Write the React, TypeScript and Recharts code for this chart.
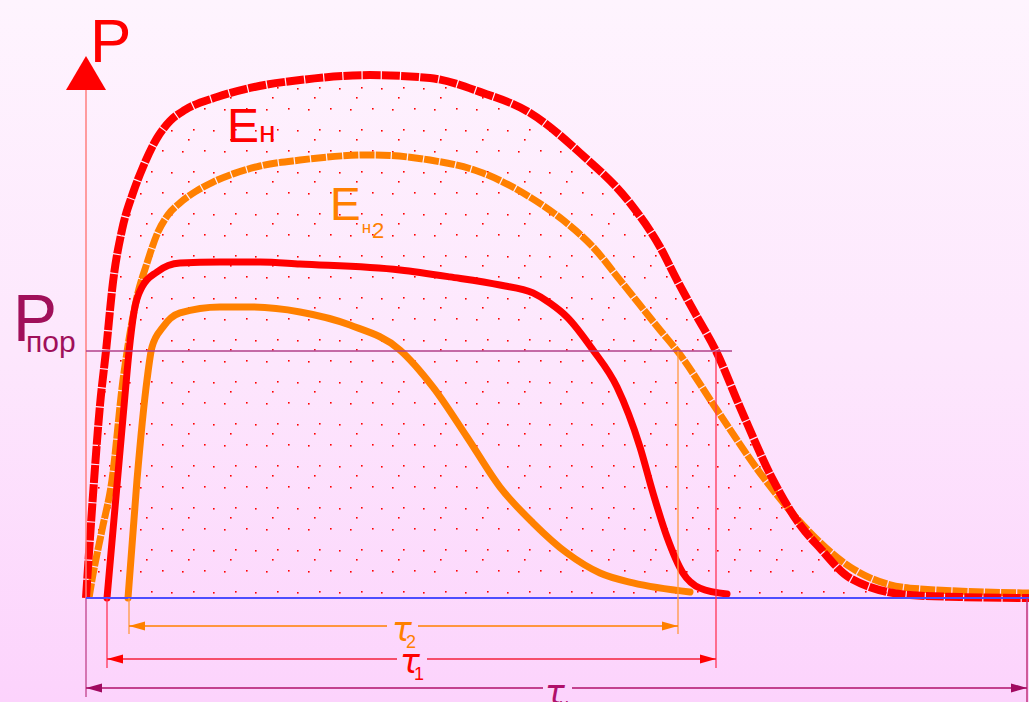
import type { ReactNode } from 'react';
import { ComposedChart, Line, Area, XAxis, YAxis, ReferenceLine, ReferenceDot } from 'recharts';

// t – time from the start of the pulse, P – power (threshold P_пор = 100)
const enT = [0, 7, 14, 20, 27, 36, 47, 57, 71, 84, 99, 131, 164, 214, 284, 344, 394, 444, 494, 544, 574, 591, 610, 630, 654, 687, 714, 734, 764, 824, 874, 943];
const enP = [0, 41.7, 78.1, 100.0, 127.9, 149.0, 164.0, 174.5, 186.2, 193.1, 197.6, 202.8, 206.5, 209.7, 211.7, 210.5, 204.9, 196.4, 180.2, 159.9, 142.1, 128.7, 114.6, 100.0, 77.3, 47.8, 29.6, 20.2, 8.1, 1.2, 0.4, 0];

const en2T = [3, 6, 16, 26, 37, 41, 51, 61, 72, 82, 94, 109, 127, 147, 174, 214, 284, 344, 394, 444, 477, 507, 534, 574, 592, 631, 677, 714, 764, 824, 943];
const en2P = [0, 7.3, 27.5, 47.8, 88.3, 99.6, 121.9, 135.6, 148.2, 155.1, 160.0, 164.4, 168.4, 171.7, 174.9, 177.3, 179.4, 177.3, 172.5, 162.3, 153.0, 142.1, 128.7, 108.5, 99.6, 76.1, 49.0, 30.8, 12.6, 4.0, 2.0];

const p1T = [21, 31, 39, 43, 48, 56, 71, 94, 134, 174, 214, 314, 364, 414, 447, 464, 481, 507, 531, 554, 567, 581, 597, 614, 641];
const p1P = [0, 45.7, 82.2, 99.6, 115.8, 125.9, 132.0, 135.6, 136.0, 136.0, 135.2, 132.8, 130.0, 126.7, 123.5, 119.4, 113.8, 100.4, 85.4, 61.1, 42.5, 24.7, 10.1, 4.0, 1.6];

const p2T = [42, 51, 61, 66, 77, 94, 134, 164, 214, 264, 314, 347, 381, 414, 447, 481, 514, 547, 604];
const p2P = [0, 47.8, 88.3, 101.6, 109.7, 115.4, 117.8, 117.8, 115.8, 110.5, 100.4, 85.4, 65.2, 44.9, 30.4, 18.2, 10.1, 6.1, 2.4];

const P_POR = 100;
// duration intervals [start, end]
const tau2 = [43, 592];
const tau1 = [21, 630];
const tauN = [0, 941];

const rows = (ts: number[], ps: number[]) => ts.map((t, i) => ({ t, P: ps[i] }));
const enRows = rows(enT, enP);
const en2Rows = rows(en2T, en2P);
const p1Rows = rows(p1T, p1P);
const p2Rows = rows(p2T, p2P);

const SANS = '"Liberation Sans", Arial, sans-serif';
const RED = '#ff0000';
const ORANGE = '#ff8000';
const MAGENTA = '#b0106a';

type Pt = [number, number];

function seg(key: string, a: Pt, b: Pt, stroke: string, w = 1.5) {
  return (
    <ReferenceLine
      key={key}
      segment={[{ x: a[0], y: a[1] }, { x: b[0], y: b[1] }]}
      stroke={stroke}
      strokeWidth={w}
      ifOverflow="visible"
    />
  );
}

function head(key: string, x: number, y: number, dir: number, fill: string) {
  return (
    <ReferenceDot
      key={key}
      x={x}
      y={y}
      r={1}
      ifOverflow="visible"
      shape={(p: any) => (
        <polygon
          points={`${p.cx},${p.cy} ${p.cx - dir * 16},${p.cy - 4.5} ${p.cx - dir * 16},${p.cy + 4.5}`}
          fill={fill}
        />
      )}
    />
  );
}

function note(key: string, x: number, y: number, fill: string, content: ReactNode, extra: any = {}) {
  return (
    <ReferenceDot
      key={key}
      x={x}
      y={y}
      r={1}
      ifOverflow="visible"
      shape={(p: any) => (
        <text x={p.cx} y={p.cy} fill={fill} fontFamily={SANS} {...extra}>
          {content}
        </text>
      )}
    />
  );
}

// double-headed dimension arrow with a gap left for its label
function dimension(key: string, span: number[], y: number, gap: number[], color: string, headColor: string) {
  return [
    seg(key + 'a', [span[0], y], [gap[0], y], color),
    seg(key + 'b', [gap[1], y], [span[1], y], color),
    head(key + 'l', span[0], y, -1, headColor),
    head(key + 'r', span[1], y, 1, headColor),
  ];
}

function tauLabel(key: string, x: number, y: number, color: string, sub: string) {
  return note(
    key,
    x,
    y,
    color,
    <>
      <tspan fontSize={33} fontStyle="italic" fontFamily='"DejaVu Sans", sans-serif'>τ</tspan>
      <tspan fontSize={18} dx={-6} dy={7}>{sub}</tspan>
    </>,
  );
}

const lineProps = { type: 'monotone' as const, dataKey: 'P', dot: false, activeDot: false, isAnimationActive: false };

export default function App() {
  return (
    <div
      style={{
        position: 'fixed',
        left: 0,
        top: 0,
        width: 1029,
        height: 702,
        background: 'linear-gradient(to bottom, #fef4fe 0%, #fde7fd 50%, #fcd3fc 100%)',
      }}
    >
      <ComposedChart width={1029} height={702} margin={{ top: 0, right: 0, bottom: 0, left: 0 }}>
        <defs>
          <pattern id="dots" width="42" height="42" patternUnits="userSpaceOnUse">
            <rect x="3" y="4" width="1.6" height="1.6" fill={RED} />
            <rect x="25" y="3" width="1.6" height="1.6" fill={RED} />
            <rect x="14" y="25" width="1.6" height="1.6" fill={RED} />
            <rect x="36" y="24" width="1.6" height="1.6" fill={RED} />
            <rect x="20" y="13" width="1.6" height="1.6" fill={RED} />
          </pattern>
        </defs>
        <XAxis type="number" dataKey="t" domain={[-86, 943]} hide allowDataOverflow />
        <YAxis type="number" domain={[-42.1, 242.1]} hide allowDataOverflow />

        <Area
          data={enRows}
          dataKey="P"
          type="monotone"
          fill="url(#dots)"
          fillOpacity={1}
          stroke="none"
          dot={false}
          activeDot={false}
          isAnimationActive={false}
        />

        <Line data={en2Rows} {...lineProps} stroke={ORANGE} strokeWidth={7} strokeDasharray="15 1.2" />
        <Line data={enRows} {...lineProps} stroke={RED} strokeWidth={8} strokeDasharray="18 1.2" />
        <Line data={p2Rows} {...lineProps} stroke={ORANGE} strokeWidth={7} strokeLinecap="round" />
        <Line data={p1Rows} {...lineProps} stroke={RED} strokeWidth={7} strokeLinecap="round" />

        {/* P axis */}
        {seg('axis', [0, 205.7], [0, 0], '#ff7f7f', 1.5)}
        {seg('axisLow', [0, 0], [0, -40.1], '#c8559a', 1.5)}
        <ReferenceDot
          x={0}
          y={219.4}
          r={1}
          ifOverflow="visible"
          shape={(p: any) => (
            <polygon points={`${p.cx},${p.cy} ${p.cx - 20},${p.cy + 34} ${p.cx + 20},${p.cy + 34}`} fill={RED} />
          )}
        />
        {seg('base', [0, 0], [943, 0], '#4d4dff', 1.8)}
        {seg('por', [0, P_POR], [646, P_POR], '#b04088', 1.5)}

        {/* extension lines */}
        {seg('v2r', [tau2[1], P_POR], [tau2[1], -14.6], '#ff9a40', 1.3)}
        {seg('v1r', [tau1[1], P_POR], [tau1[1], -28.3], '#ff3355', 1.3)}
        {seg('vNr', [tauN[1], 0], [tauN[1], -42.1], '#c0307a', 1.5)}
        {seg('v2l', [tau2[0], 0], [tau2[0], -14.6], '#ff9a40', 1.3)}
        {seg('v1l', [tau1[0], 0], [tau1[0], -28.3], '#ff3355', 1.3)}

        {dimension('t2', tau2, -11.3, [301, 332], ORANGE, ORANGE)}
        {dimension('t1', tau1, -24.7, [311, 341], '#f5203a', RED)}
        {dimension('tN', tauN, -36.4, [457, 486], MAGENTA, '#a00a60')}

        {tauLabel('l2', 306, -17.4, ORANGE, '2')}
        {tauLabel('l1', 314, -30.4, RED, '1')}
        {tauLabel('lN', 459, -42.9, MAGENTA, 'н')}

        {note('P', 4, 217.0, RED, 'P', { fontSize: 62 })}
        {note('Ppor', -73, 104.0, '#a0105a', 'P', { fontSize: 66 })}
        {note('por', -60, 99.6, '#a0105a', 'пор', { fontSize: 30 })}
        {note(
          'en',
          141,
          184.6,
          RED,
          <>
            <tspan fontSize={48}>Е</tspan>
            <tspan fontSize={30}>н</tspan>
          </>,
        )}
        {note(
          'en2',
          244,
          153.0,
          ORANGE,
          <>
            <tspan fontSize={46}>Е</tspan>
            <tspan fontSize={17} dx={1} dy={13}>н</tspan>
            <tspan fontSize={22} dx={1} dy={5}>2</tspan>
          </>,
        )}
      </ComposedChart>
    </div>
  );
}
